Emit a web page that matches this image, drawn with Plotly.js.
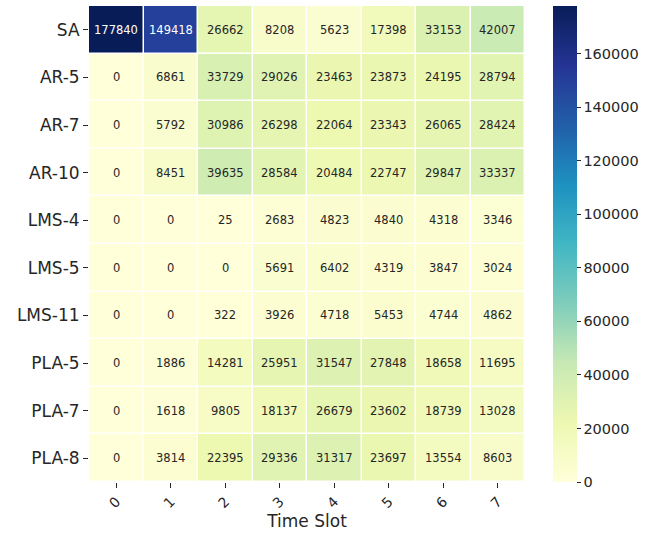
<!DOCTYPE html>
<html>
<head>
<meta charset="utf-8">
<script src="https://cdn.plot.ly/plotly-3.0.1.min.js"></script>
<style>html,body{margin:0;padding:0;background:#fff;}#chart{width:657px;height:535px;}</style>
</head>
<body>
<div id="chart"></div>
<script>
const timeSlots = ["0", "1", "2", "3", "4", "5", "6", "7"];
const methods = ["SA", "AR-5", "AR-7", "AR-10", "LMS-4", "LMS-5", "LMS-11", "PLA-5", "PLA-7", "PLA-8"];
const SA     = [177840, 149418, 26662, 8208, 5623, 17398, 33153, 42007];
const AR5    = [0, 6861, 33729, 29026, 23463, 23873, 24195, 28794];
const AR7    = [0, 5792, 30986, 26298, 22064, 23343, 26065, 28424];
const AR10   = [0, 8451, 39635, 28584, 20484, 22747, 29847, 33337];
const LMS4   = [0, 0, 25, 2683, 4823, 4840, 4318, 3346];
const LMS5   = [0, 0, 0, 5691, 6402, 4319, 3847, 3024];
const LMS11  = [0, 0, 322, 3926, 4718, 5453, 4744, 4862];
const PLA5   = [0, 1886, 14281, 25951, 31547, 27848, 18658, 11695];
const PLA7   = [0, 1618, 9805, 18137, 26679, 23602, 18739, 13028];
const PLA8   = [0, 3814, 22395, 29336, 31317, 23697, 13554, 8603];
const colorbarTicks = [0, 20000, 40000, 60000, 80000, 100000, 120000, 140000, 160000];

const z = [SA, AR5, AR7, AR10, LMS4, LMS5, LMS11, PLA5, PLA7, PLA8];
const zmax = Math.max(...z.flat());

const ylgnbu = [
  [0.0, '#ffffd9'], [0.125, '#edf8b1'], [0.25, '#c7e9b4'], [0.375, '#7fcdbb'],
  [0.5, '#41b6c4'], [0.625, '#1d91c0'], [0.75, '#225ea8'], [0.875, '#253494'], [1.0, '#081d58']
];

const annotations = [];
z.forEach((row, i) => {
  row.forEach((v, j) => {
    annotations.push({
      x: timeSlots[j], y: methods[i], xref: 'x', yref: 'y',
      text: String(v), showarrow: false,
      font: {family: 'DejaVu Sans', size: 11.5, color: v > zmax * 0.55 ? '#ffffff' : '#262626'}
    });
  });
});

const trace = {
  type: 'heatmap',
  x: timeSlots, y: methods, z: z,
  colorscale: ylgnbu, zmin: 0, zmax: zmax,
  xgap: 1.5, ygap: 1.5,
  hoverinfo: 'none',
  colorbar: {
    x: 1.064, xanchor: 'left', xpad: 0, y: 0.5, yanchor: 'middle', ypad: 0,
    len: 1, lenmode: 'fraction', thickness: 24, outlinewidth: 0,
    tickvals: colorbarTicks, ticktext: colorbarTicks.map(String),
    ticks: 'outside', ticklen: 4, tickcolor: '#262626',
    tickfont: {family: 'DejaVu Sans', size: 14.5, color: '#262626'}
  }
};

const layout = {
  width: 657, height: 535,
  margin: {l: 89, r: 132, t: 6, b: 53},
  paper_bgcolor: '#ffffff', plot_bgcolor: '#ffffff',
  font: {family: 'DejaVu Sans', color: '#262626'},
  xaxis: {
    type: 'category', tickangle: -45, ticks: 'outside', ticklen: 5, tickcolor: '#262626',
    tickfont: {size: 14}, showgrid: false, zeroline: false, showline: false,
    title: {text: 'Time Slot', font: {size: 17}, standoff: 4}
  },
  yaxis: {
    type: 'category', autorange: 'reversed', ticks: 'outside', ticklen: 5, tickcolor: '#262626',
    tickfont: {size: 17}, showgrid: false, zeroline: false, showline: false
  },
  annotations: annotations
};

Plotly.newPlot('chart', [trace], layout, {displayModeBar: false, staticPlot: true});
</script>
</body>
</html>
